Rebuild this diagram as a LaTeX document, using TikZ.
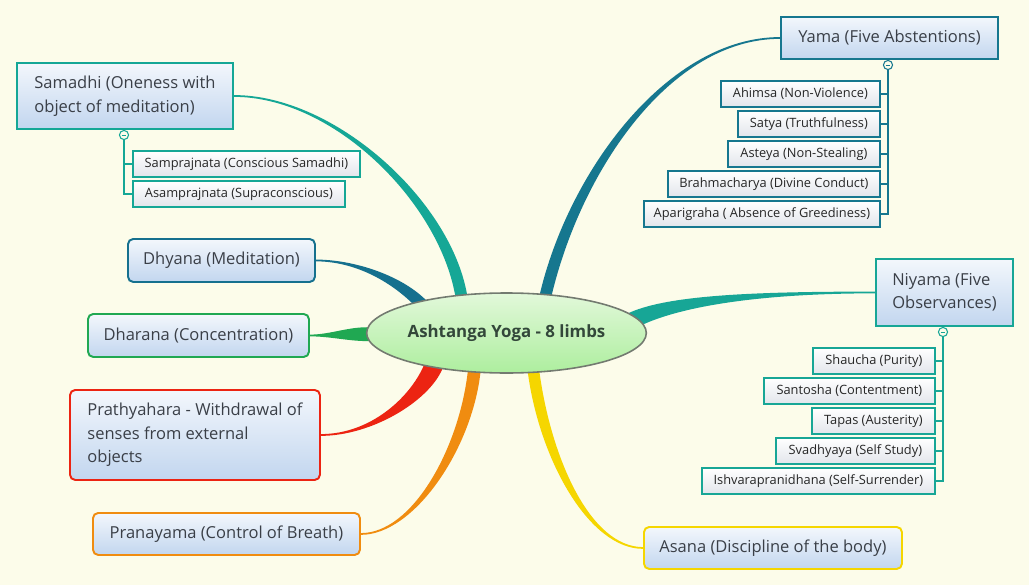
\documentclass[tikz,border=0pt]{standalone}
\usepackage{fontspec}
\setmainfont{Open Sans}
\usetikzlibrary{shapes.geometric}

\definecolor{paper}{HTML}{FCFCEA}
\definecolor{boxtop}{HTML}{F3F7FC}
\definecolor{boxbot}{HTML}{C2D6EF}
\definecolor{leaftop}{HTML}{FFFFFF}
\definecolor{leafbot}{HTML}{E2E5EB}
\definecolor{hubtop}{HTML}{E2F8DA}
\definecolor{hubbot}{HTML}{ADEE9E}
\definecolor{hubline}{HTML}{737A70}
\definecolor{ink}{HTML}{3A3F47}
\definecolor{hubink}{HTML}{33473A}
\definecolor{yamac}{HTML}{16778F}
\definecolor{niyamac}{HTML}{17A696}
\definecolor{asanac}{HTML}{F5D600}
\definecolor{pranac}{HTML}{F08C10}
\definecolor{prathc}{HTML}{EC2412}
\definecolor{dharac}{HTML}{20A852}
\definecolor{dhyanac}{HTML}{15708E}
\definecolor{samac}{HTML}{15A796}

\pgfdeclarelayer{back}
\pgfdeclarelayer{limbs}
\pgfsetlayers{back,limbs,main}

\begin{document}
\begin{tikzpicture}[
    % one unit is one pixel of the reference, y runs downwards
    x=0.02cm, y=-0.02cm,
    wh/.style 2 args = {minimum width=#1*0.02cm, minimum height=#2*0.02cm},
    % centre of the map
    hub/.style = {ellipse, draw=hubline, line width=0.9pt, top color=hubtop, bottom color=hubbot,
                  text=hubink, inner sep=0pt, wh={273}{80}, font=\fontsize{9.6}{12}\selectfont\bfseries},
    % the eight limbs
    limb/.style = {rectangle, draw, line width=1.1pt, top color=boxtop, bottom color=boxbot,
                   text=ink, inner sep=0pt, anchor=north west, align=left,
                   font=\fontsize{9.4}{13.4}\selectfont},
    soft/.style = {rounded corners=3pt},
    % sub topics
    leaf/.style = {rectangle, draw, line width=1pt, top color=leaftop, bottom color=leafbot,
                   text=black!85, inner sep=0pt, anchor=north west, font=\fontsize{7.3}{9}\selectfont},
    knob/.style = {circle, draw, line width=0.6pt, fill=paper, minimum size=5.2pt, inner sep=0pt},
    twig/.style = {line width=1pt},
    branch/.style = {line width=1pt}
    ]

    \begin{pgfonlayer}{back}
    \fill[paper] (0,0) rectangle (1029,585);
    \end{pgfonlayer}
    \useasboundingbox (0,0) rectangle (1029,585);

    \node (hub) [hub] at (506.5,333) {Ashtanga Yoga - 8 limbs};

    % limbs, right side
    \node (yama)   [limb, draw=yamac, wh={217}{42}]   at (780,16)  {Yama (Five Abstentions)};
    \node (niyama) [limb, draw=niyamac, wh={137}{67}] at (875,258) {Niyama (Five\\Observances)};
    \node (asana)  [limb, soft, draw=asanac, wh={258}{42}] at (643,526) {Asana (Discipline of the body)};

    % limbs, left side
    \node (samadhi) [limb, draw=samac, wh={216}{66}] at (16,62) {Samadhi (Oneness with\\object of meditation)};
    \node (dhyana)  [limb, soft, draw=dhyanac, wh={187}{43}] at (127,238) {Dhyana (Meditation)};
    \node (dharana) [limb, soft, draw=dharac, wh={221}{43}]  at (87,313)  {Dharana (Concentration)};
    \node (prath)   [limb, soft, draw=prathc, wh={250}{90}]  at (69,389)  {Prathyahara - Withdrawal of\\senses from external\\objects};
    \node (prana)   [limb, soft, draw=pranac, wh={267}{42}]  at (92,512)  {Pranayama (Control of Breath)};

    % sub topics of Yama
    \node (ahimsa)  [leaf, draw=yamac, wh={159}{26}] at (720,80)  {Ahimsa (Non-Violence)};
    \node (satya)   [leaf, draw=yamac, wh={142}{26}] at (737,110) {Satya (Truthfulness)};
    \node (asteya)  [leaf, draw=yamac, wh={152}{26}] at (727,140) {Asteya (Non-Stealing)};
    \node (brahma)  [leaf, draw=yamac, wh={212}{26}] at (667,170) {Brahmacharya (Divine Conduct)};
    \node (apari)   [leaf, draw=yamac, wh={236}{26}] at (643,200) {Aparigraha ( Absence of Greediness)};

    % sub topics of Niyama
    \node (shaucha)  [leaf, draw=niyamac, wh={122}{26}] at (812,347) {Shaucha (Purity)};
    \node (santosha) [leaf, draw=niyamac, wh={171}{26}] at (763,377) {Santosha (Contentment)};
    \node (tapas)    [leaf, draw=niyamac, wh={123}{26}] at (811,407) {Tapas (Austerity)};
    \node (svadhya)  [leaf, draw=niyamac, wh={159}{26}] at (775,437) {Svadhyaya (Self Study)};
    \node (ishvara)  [leaf, draw=niyamac, wh={233}{26}] at (701,467) {Ishvarapranidhana (Self-Surrender)};

    % sub topics of Samadhi
    \node (sampra)  [leaf, draw=samac, wh={227}{26}] at (132,150) {Samprajnata (Conscious Samadhi)};
    \node (asampra) [leaf, draw=samac, wh={212}{26}] at (132,180) {Asamprajnata (Supraconscious)};

    % collapse buttons
    \node (yamaknob)   [knob, draw=yamac, text=yamac]     at (888,65)  {\rule{2.8pt}{0.5pt}};
    \node (niyamaknob) [knob, draw=niyamac, text=niyamac] at (943,332) {\rule{2.8pt}{0.5pt}};
    \node (samknob)    [knob, draw=samac, text=samac]     at (124,135) {\rule{2.8pt}{0.5pt}};

    % twigs
    \foreach \n in {ahimsa, satya, asteya, brahma, apari}
        \draw[twig, yamac] (yamaknob) |- (\n.east);
    \foreach \n in {shaucha, santosha, tapas, svadhya, ishvara}
        \draw[twig, niyamac] (niyamaknob) |- (\n.east);
    \foreach \n in {sampra, asampra}
        \draw[twig, samac] (samknob) |- (\n.west);

    % branches, tapering away from the hub
    \begin{pgfonlayer}{limbs}
    \filldraw[branch, yamac] (hub.41) .. controls +(30,-125) and +(-110,0) .. (yama.west)
        .. controls +(-110,0) and +(30,-125) .. (hub.49) -- cycle;
    \filldraw[branch, niyamac] (hub.4) .. controls +(40,-18) and +(-115,0) .. (niyama.west)
        .. controls +(-115,0) and +(40,-18) .. (hub.9) -- cycle;
    \filldraw[branch, asanac] (hub.299) .. controls +(12,87) and +(-53,0) .. (asana.west)
        .. controls +(-53,0) and +(12,87) .. (hub.309) -- cycle;
    \filldraw[branch, pranac] (hub.226) .. controls +(-9,77) and +(52,0) .. (prana.east)
        .. controls +(52,0) and +(-9,77) .. (hub.236) -- cycle;
    \filldraw[branch, prathc] (hub.202) .. controls +(-14,32) and +(50,0) .. (prath.east)
        .. controls +(50,0) and +(-14,32) .. (hub.209) -- cycle;
    \filldraw[branch, dharac] (hub.178) .. controls +(-20,0) and +(20,0) .. (dharana.east)
        .. controls +(20,0) and +(-20,0) .. (hub.183) -- cycle;
    \filldraw[branch, dhyanac] (hub.158) .. controls +(-26,-25) and +(36,0) .. (dhyana.east)
        .. controls +(36,0) and +(-26,-25) .. (hub.162) -- cycle;
    \filldraw[branch, samac] (hub.136) .. controls +(-17,-94) and +(100,0) .. (samadhi.east)
        .. controls +(100,0) and +(-17,-94) .. (hub.143) -- cycle;
    \end{pgfonlayer}
\end{tikzpicture}
\end{document}
